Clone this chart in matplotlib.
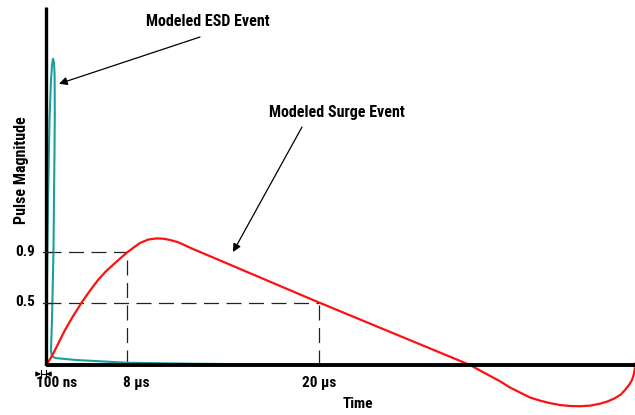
import matplotlib
matplotlib.use("Agg")
import matplotlib.pyplot as plt
from matplotlib import font_manager

# ---- data (schematic units: x = time axis units, y = pulse magnitude) ----
esd_t = [0, 1, 2, 3.5, 5, 6, 7, 8, 8.6, 8.8, 8.5, 7.5, 6, 5, 5.5, 7, 10, 30, 81, 150, 288]
esd_v = [0, 0.68, 1.32, 1.96, 2.28, 2.40, 2.45, 2.42, 2.32, 2.0, 1.72, 0.92, 0.36, 0.12, 0.08, 0.065, 0.055, 0.04, 0.018, 0.01, 0.0]

surge_t = [0, 5.7, 10.7, 19, 27, 35.7, 44, 52, 60, 69, 81, 88, 94, 102, 110.7, 118, 124, 131, 137, 145,
           273, 424, 440, 454, 464, 474, 484, 494, 504, 514, 524, 534, 544, 554, 562,
           569, 575, 579, 583, 586, 588, 589, 589]
surge_v = [0, 0.067, 0.147, 0.28, 0.39, 0.5, 0.595, 0.68, 0.75, 0.816, 0.9, 0.942, 0.976, 1.003, 1.013, 1.01, 1.0, 0.985, 0.965, 0.935,
           0.5, 0.0, -0.07, -0.13, -0.18, -0.22, -0.26, -0.285, -0.305, -0.32, -0.328, -0.33, -0.325, -0.31, -0.29,
           -0.265, -0.235, -0.2, -0.16, -0.12, -0.07, -0.02, 0.01]

level_values = [0.9, 0.5]
level_labels = ["0.9", "0.5"]
level_times = [81, 273]

time_tick_pos = [11, 90, 273]
time_tick_labels = ["100 ns", "8 µs", "20 µs"]

# ---- fonts: prefer a bold condensed sans ----
ttf = font_manager.fontManager.ttflist
names = {f.name for f in ttf}
chosen = None
for cand in ["Liberation Sans Narrow", "Roboto Condensed", "Arial Narrow", "Open Sans Condensed",
             "Noto Sans Condensed", "DejaVu Sans Condensed"]:
    if cand in names:
        chosen = cand
        break
stretch = 'normal'
if chosen is None:
    cond = [f.name for f in ttf if str(f.stretch) in ('condensed', 'semi-condensed', 'extra-condensed')
            and f.weight in ('bold', 700, 'semibold', 600)]
    if cond:
        chosen = cond[0]
        stretch = 'condensed'
if chosen is None:
    chosen = "Roboto" if "Roboto" in names else "Liberation Sans"
plt.rcParams['font.family'] = [chosen, 'DejaVu Sans']
plt.rcParams['font.stretch'] = stretch
plt.rcParams['font.weight'] = 'bold'
condensed = stretch == 'condensed' or 'Narrow' in chosen or 'Condensed' in chosen
fs = 11 if condensed else 10
fs_big = 11.5 if condensed else 10.5

fig = plt.figure(figsize=(6.35, 4.15), dpi=100)
ax = fig.add_axes([0, 0, 1, 1])
ax.set_xlim(-46, 589)
ax.set_ylim(-0.4, 2.92)
ax.axis('off')

# axes lines
ax.plot([0, 0], [0, 2.86], color='black', lw=2.4, solid_capstyle='butt', zorder=5)
ax.plot([0, 589], [0, 0], color='black', lw=2.8, solid_capstyle='butt', zorder=5)

# dashed guides
for v, t in zip(level_values, level_times):
    ax.plot([0, t], [v, v], color='#222222', lw=0.9, dashes=(12, 6), dash_capstyle='butt', zorder=2)
    ax.plot([t, t], [0, v], color='#222222', lw=0.9, dashes=(12, 6), dash_capstyle='butt', zorder=2)
    ax.plot([-3, 6], [v, v], color='#222222', lw=0.9, zorder=6)

# curves
ax.plot(surge_t, surge_v, color='#ff1010', lw=1.6, zorder=4, solid_joinstyle='round')
ax.plot(esd_t, esd_v, color='#1a9e9e', lw=1.5, zorder=3, solid_joinstyle='round')

# y labels
for v, lab in zip(level_values, level_labels):
    ax.text(-11, v, lab, ha='right', va='center', fontsize=fs, fontweight='bold')
ax.text(-24, 1.56, "Pulse Magnitude", rotation=90, ha='center', va='center', fontsize=fs_big, fontweight='bold')

# x labels
for p, lab in zip(time_tick_pos, time_tick_labels):
    ax.text(p, -0.145, lab, ha='center', va='center', fontsize=fs, fontweight='bold')
ax.text(312, -0.31, "Time", ha='center', va='center', fontsize=fs, fontweight='bold')

# 100 ns dimension marker
ym = -0.072
ax.annotate("", xy=(-5, ym), xytext=(-10, ym),
            arrowprops=dict(arrowstyle='-|>', lw=0.8, color='black', mutation_scale=7, shrinkA=0, shrinkB=0))
ax.annotate("", xy=(0, ym), xytext=(5, ym),
            arrowprops=dict(arrowstyle='-|>', lw=0.8, color='black', mutation_scale=7, shrinkA=0, shrinkB=0))
ax.plot([-5, 0], [ym, ym], color='black', lw=0.8)
ax.plot([-5, -5], [ym - 0.03, ym + 0.03], color='black', lw=0.8)
ax.plot([0, 0], [ym - 0.03, ym + 0.03], color='black', lw=0.8)

# annotations
ax.text(161.5, 2.745, "Modeled ESD Event", ha='center', va='center', fontsize=fs_big, fontweight='bold')
ax.annotate("", xy=(13, 2.25), xytext=(154, 2.624),
            arrowprops=dict(arrowstyle='-|>', lw=0.9, color='black', mutation_scale=12, shrinkA=0, shrinkB=0))
ax.text(291, 2.016, "Modeled Surge Event", ha='center', va='center', fontsize=fs_big, fontweight='bold')
ax.annotate("", xy=(187, 0.904), xytext=(256, 1.904),
            arrowprops=dict(arrowstyle='-|>', lw=0.9, color='black', mutation_scale=12, shrinkA=0, shrinkB=0))

fig.savefig("out.png", dpi=100)
